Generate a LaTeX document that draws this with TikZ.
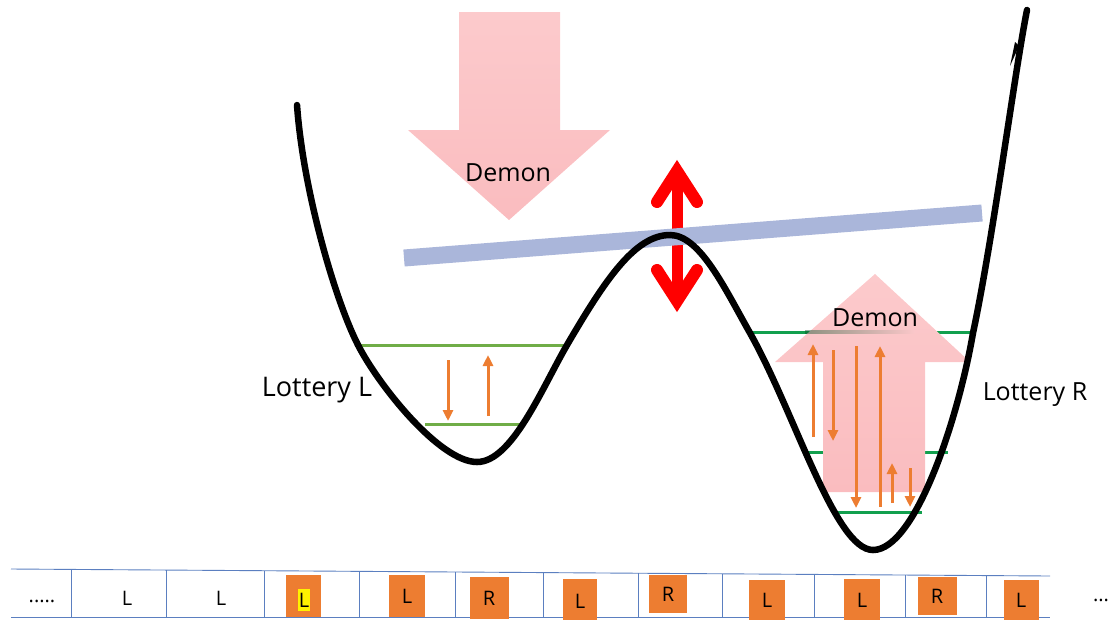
\documentclass[tikz,border=0pt]{standalone}
\usepackage{fontspec}
\setmainfont{Open Sans}
\usetikzlibrary{arrows.meta}
\definecolor{orangeA}{HTML}{ED7D31}
\definecolor{greenL}{HTML}{70AD47}
\definecolor{greenR}{HTML}{12A04E}
\definecolor{barblue}{HTML}{AAB6DA}
\definecolor{pinkA}{HTML}{FCCACC}
\definecolor{pinkB}{HTML}{F7A5A9}
\definecolor{pinkC}{HTML}{FABCBF}
\definecolor{tapeblue}{HTML}{5B7FC0}
\begin{document}
\begin{tikzpicture}[x=1pt,y=-1pt,
  orarrow/.style={draw=orangeA, line width=3pt, -{Triangle[length=11pt,width=10pt]}},
  lvl/.style={line width=3pt},
  lbl/.style={font=\fontsize{25}{30}\selectfont, inner sep=0pt},
  cell/.style={fill=orangeA, minimum width=36pt, minimum height=42pt, inner sep=0pt, font=\fontsize{20}{24}\selectfont},
  tapetxt/.style={font=\fontsize{20}{24}\selectfont, inner sep=0pt},
  tapeline/.style={draw=tapeblue, line width=0.9pt},
  redarrow/.style={draw=red, line width=12pt, line cap=round, line join=miter}]
\useasboundingbox (0,0) rectangle (1113,619);

% energy levels
\draw[lvl,greenL] (358,345) -- (567,345);
\draw[lvl,greenL] (425,424) -- (522,424);
\draw[lvl,greenR] (750,332) -- (973,332);
\draw[lvl,greenR] (806,452) -- (948,452);
\draw[lvl,greenR] (835,512) -- (922,512);

% demon arrows
\shade[top color=pinkA, middle color=pinkB, bottom color=pinkC]
  (459,12) -- (560,12) -- (560,130) -- (610,130) -- (509,220) -- (408,130) -- (459,130) -- cycle;
\shade[top color=pinkA, middle color=pinkB, bottom color=pinkC]
  (875,274) -- (970,362) -- (925,362) -- (925,492) -- (823,492) -- (823,362) -- (775,362) -- cycle;
\shade[left color=greenR!50!black, right color=pinkA, opacity=0.45] (805,330.5) rectangle (915,333.5);

% orange transitions
\draw[orarrow] (448,360) -- (448,421);
\draw[orarrow] (488,416) -- (488,355);
\draw[orarrow] (813,437) -- (813,344);
\draw[orarrow] (833,350) -- (833,441);
\draw[orarrow] (856,346) -- (856,508);
\draw[orarrow] (880,507) -- (880,346);
\draw[orarrow] (892,503) -- (892,463);
\draw[orarrow] (910,468) -- (910,507);

% red double arrow
\draw[red, line width=11pt] (677,178) -- (677,296);
\draw[redarrow] (657,202) -- (677,171) -- (697,202);
\draw[redarrow] (657,270) -- (677,301) -- (697,270);

% barrier bar
\draw[barblue, line width=17pt] (404,258) -- (982,213);

% potential curve
\draw[line width=6.5pt, line cap=round]
  (297,105) .. controls (303,190) and (335,300) .. (358,345)
  .. controls (379,386) and (440,462) .. (477,462)
  .. controls (512,462) and (542,388) .. (567,345)
  .. controls (605,280) and (635,235) .. (670,235)
  .. controls (700,235) and (725,289) .. (750,333)
  .. controls (795,413) and (835,550) .. (873,550)
  .. controls (915,550) and (958,420) .. (973,333)
  .. controls (993,239) and (1015,70) .. (1027,10);
\fill (1010,66) -- (1015,42) -- (1019,46) -- cycle;

% labels
\node[lbl] (demonT) at (508,173) {Demon};
\node[lbl] (demonR) at (875,318) {Demon};
\node[lbl, font=\fontsize{27}{32}\selectfont] (lotL) at (317,390) {Lottery L};
\node[lbl] (lotR) at (1035,395) {Lottery R};

% tape
\draw[tapeline] (11,569) -- (1050,576);
\draw[tapeline] (11,617) -- (1050,617);
\foreach \x in {71,166,264,359,455,543,638,722,814,905,986}
  \draw[tapeline] (\x,{569+(\x-11)*7/1039}) -- (\x,617);

\node[tapetxt] (d1) at (42,601) {.....};
\node[tapetxt] (c1) at (127,598) {L};
\node[tapetxt] (c2) at (221,598) {L};
\node[cell, minimum width=35pt] (c3) at (303,596) {};
\node[tapetxt, fill=yellow, minimum width=12pt, minimum height=22pt] (c3t) at (304,600) {L};
\node[cell] (c4) at (407,596) {L};
\node[cell, minimum width=39pt] (c5) at (489,598) {R};
\node[cell, minimum width=34pt, minimum height=44pt] (c6) at (580,601) {L};
\node[cell, minimum width=38pt, minimum height=38pt] (c7) at (668,594) {R};
\node[cell, minimum height=40pt] (c8) at (767,600) {L};
\node[cell] (c9) at (862,600) {L};
\node[cell, minimum width=39pt, minimum height=38pt] (c10) at (937,596) {R};
\node[cell, minimum width=35pt, minimum height=40pt] (c11) at (1021,600) {L};
\node[tapetxt] (d2) at (1101,600) {...};
\end{tikzpicture}
\end{document}
